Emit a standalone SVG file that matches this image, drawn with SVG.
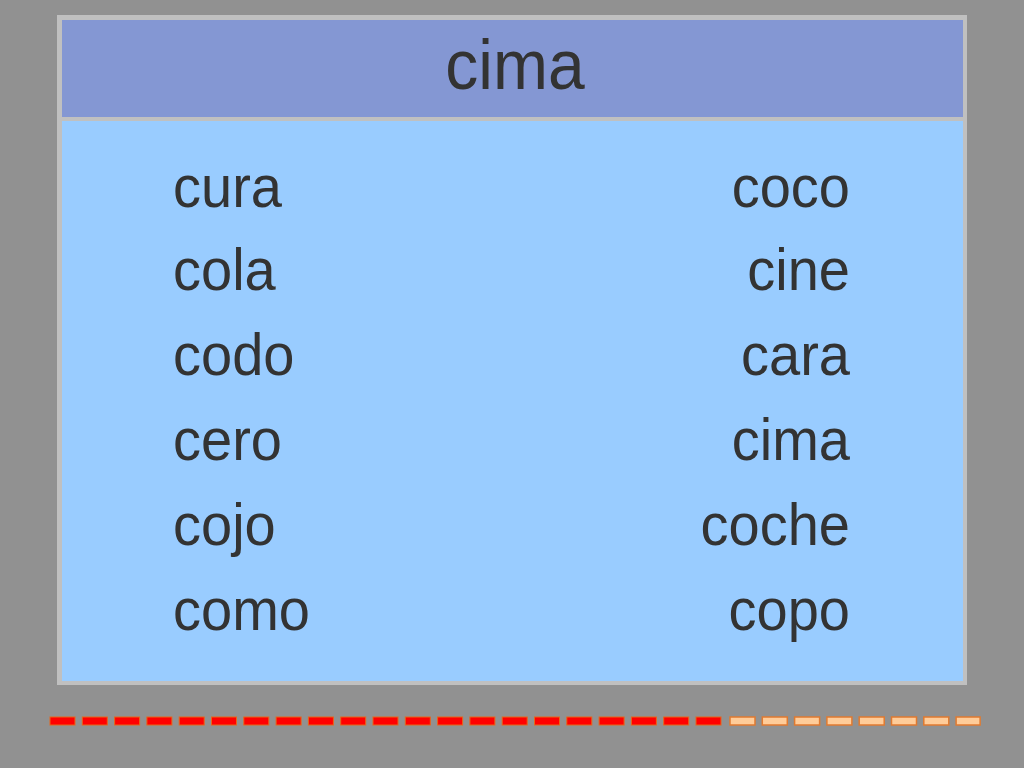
<svg xmlns="http://www.w3.org/2000/svg" width="1024" height="768" viewBox="0 0 1024 768">
<style>
.t{font-family:"Liberation Sans",Arial,sans-serif;fill:#333333;font-size:56px}
.r{text-anchor:end}
.red{fill:#ff0000;stroke:#e8661a;stroke-width:1}
.org{fill:#ffcc99;stroke:#e07a30;stroke-width:1.5}
</style>
<rect x="0" y="0" width="1024" height="768" fill="#919191"/>
<g id="table">
<rect x="57" y="15" width="910" height="670" fill="#c0c0c0"/>
<rect x="62" y="20" width="901" height="97" fill="#8497d3"/>
<rect x="62" y="121" width="901" height="560" fill="#99ccff"/>
</g>
<g id="title"><text class="t" transform="translate(515,89) scale(1,1.07)" x="0" y="0" text-anchor="middle" style="font-size:66px">cima</text></g>
<g id="left">
<text class="t" transform="translate(173,207) scale(1,1.05)">cura</text>
<text class="t" transform="translate(173,290) scale(1,1.05)">cola</text>
<text class="t" transform="translate(173,375) scale(1,1.05)">codo</text>
<text class="t" transform="translate(173,460) scale(1,1.05)">cero</text>
<text class="t" transform="translate(173,545) scale(1,1.05)">cojo</text>
<text class="t" transform="translate(173,630) scale(1,1.05)">como</text>
</g>
<g id="right">
<text class="t r" transform="translate(850,207) scale(1,1.05)">coco</text>
<text class="t r" transform="translate(850,290) scale(1,1.05)">cine</text>
<text class="t r" transform="translate(850,375) scale(1,1.05)">cara</text>
<text class="t r" transform="translate(850,460) scale(1,1.05)">cima</text>
<text class="t r" transform="translate(850,545) scale(1,1.05)">coche</text>
<text class="t r" transform="translate(850,630) scale(1,1.05)">copo</text>
</g>
<g id="progress">
<rect class="red" x="50" y="717" width="25" height="8"/>
<rect class="red" x="82.3" y="717" width="25" height="8"/>
<rect class="red" x="114.6" y="717" width="25" height="8"/>
<rect class="red" x="146.9" y="717" width="25" height="8"/>
<rect class="red" x="179.2" y="717" width="25" height="8"/>
<rect class="red" x="211.5" y="717" width="25" height="8"/>
<rect class="red" x="243.8" y="717" width="25" height="8"/>
<rect class="red" x="276.1" y="717" width="25" height="8"/>
<rect class="red" x="308.4" y="717" width="25" height="8"/>
<rect class="red" x="340.7" y="717" width="25" height="8"/>
<rect class="red" x="373" y="717" width="25" height="8"/>
<rect class="red" x="405.3" y="717" width="25" height="8"/>
<rect class="red" x="437.6" y="717" width="25" height="8"/>
<rect class="red" x="469.9" y="717" width="25" height="8"/>
<rect class="red" x="502.2" y="717" width="25" height="8"/>
<rect class="red" x="534.5" y="717" width="25" height="8"/>
<rect class="red" x="566.8" y="717" width="25" height="8"/>
<rect class="red" x="599.1" y="717" width="25" height="8"/>
<rect class="red" x="631.4" y="717" width="25" height="8"/>
<rect class="red" x="663.7" y="717" width="25" height="8"/>
<rect class="red" x="696" y="717" width="25" height="8"/>
<rect class="org" x="730" y="717" width="25" height="8"/>
<rect class="org" x="762.3" y="717" width="25" height="8"/>
<rect class="org" x="794.6" y="717" width="25" height="8"/>
<rect class="org" x="826.9" y="717" width="25" height="8"/>
<rect class="org" x="859.2" y="717" width="25" height="8"/>
<rect class="org" x="891.5" y="717" width="25" height="8"/>
<rect class="org" x="923.8" y="717" width="25" height="8"/>
<rect class="org" x="956.1" y="717" width="24" height="8"/>
</g>
</svg>
